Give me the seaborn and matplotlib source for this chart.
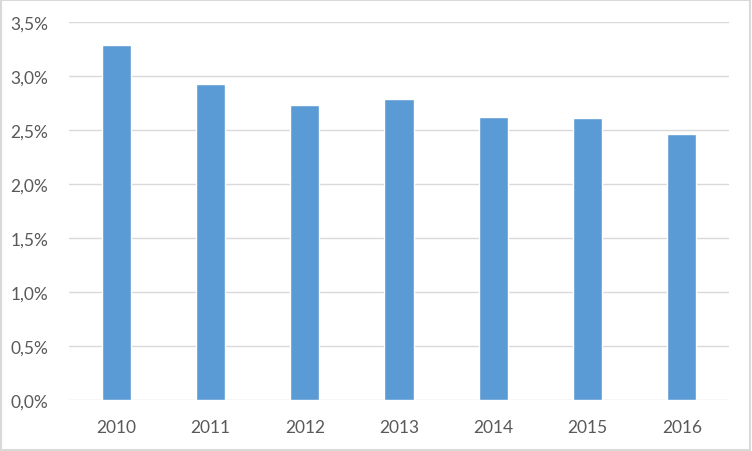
import matplotlib
matplotlib.use('Agg')
import matplotlib.pyplot as plt
import seaborn as sns
import pandas as pd
from matplotlib.ticker import FuncFormatter, MultipleLocator
from matplotlib.patches import Rectangle

# data
years = ['2010', '2011', '2012', '2013', '2014', '2015', '2016']
share = [3.29, 2.93, 2.73, 2.79, 2.62, 2.61, 2.46]

df = pd.DataFrame({'year': years, 'share': share})

sns.set_theme(style='white')
plt.rcParams['font.family'] = ['Lato', 'DejaVu Sans']

fig = plt.figure(figsize=(7.52, 4.52), dpi=100)
ax = fig.add_axes([0.0918, 0.1128, 0.8776, 0.8362])

sns.barplot(data=df, x='year', y='share', color='#5B9BD5', saturation=1,
            width=0.31, ax=ax, zorder=3)

ax.set_ylim(0, 3.5)
ax.yaxis.set_major_locator(MultipleLocator(0.5))
ax.yaxis.set_major_formatter(FuncFormatter(lambda v, p: f'{v:.1f}%'.replace('.', ',')))
ax.grid(axis='y', color='#D9D9D9', linewidth=1, zorder=0)
ax.set_xlabel('')
ax.set_ylabel('')
for s in ax.spines.values():
    s.set_visible(False)
ax.tick_params(axis='both', length=0, labelsize=12.5, colors='#595959')
ax.tick_params(axis='x', pad=14)
ax.tick_params(axis='y', pad=15)

# outer border
fig.patches.append(Rectangle((0.001, 0.002), 0.997, 0.996, transform=fig.transFigure,
                             fill=False, edgecolor='#D9D9D9', linewidth=1.5))

fig.savefig('out.png', dpi=100)
